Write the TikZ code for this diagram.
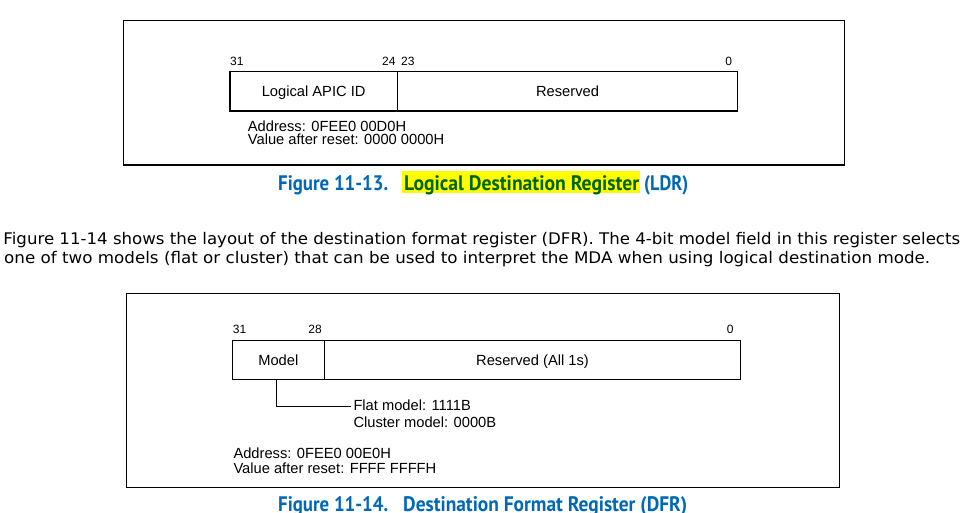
\documentclass[tikz,border=0pt]{standalone}
\usepackage{fontspec}
\usepackage{graphicx}
\setmainfont{Liberation Sans}
\newfontfamily\parafont{DejaVu Sans}
\newfontfamily\capfont{PT Sans}
\definecolor{capblue}{RGB}{0,104,181}
\definecolor{capgreen}{RGB}{0,100,0}
\definecolor{hlyellow}{RGB}{255,255,0}
\begin{document}
\begin{tikzpicture}[x=1pt,y=-1pt,
  frame/.style={draw, line width=1.2pt},
  field/.style={draw, line width=1.1pt, inner sep=0pt, text height=10.5pt, text depth=0pt,
    font=\fontsize{14.7}{14}\selectfont, anchor=center},
  bitnum/.style={inner sep=0pt, font=\fontsize{12}{12}\selectfont},
  info/.style={inner sep=0pt, anchor=base west, font=\fontsize{14.7}{14}\selectfont},
  para/.style={inner sep=0pt, anchor=base west, font=\parafont\fontsize{16}{18}\selectfont},
  captext/.style={inner sep=0pt, anchor=base west, font=\capfont\bfseries\fontsize{21}{24}\selectfont},
  conn/.style={line width=1pt}]
\useasboundingbox (0,0) rectangle (975,512);
\fill[white] (0,0) rectangle (975,512);
\clip (0,0) rectangle (975,512);

% ---------- Figure 11-13 ----------
\draw[frame] (123.5,20.7) rectangle (844.3,165);
\node[field, minimum width=167.3pt, minimum height=39.3pt] (apic) at (313.65,91.35) {Logical APIC ID};
\node[field, minimum width=340.4pt, minimum height=39.3pt] (resA) at (567.5,91.35) {Reserved};
\node[bitnum, anchor=base west] (b31a) at (230,65.7) {31};
\node[bitnum, anchor=base east] (b24) at (395.7,65.7) {24};
\node[bitnum, anchor=base west] (b23) at (401,65.7) {23};
\node[bitnum, anchor=base east] (b0a) at (732.3,65.7) {0};
\node[info] (addrA) at (247.7,131.7) {Address: 0FEE0 00D0H};
\node[info] (valA) at (247.7,144.8) {Value after reset: 0000 0000H};

\fill[hlyellow] (402,171) rectangle (640,193);
\node[captext, text=capblue] (c1a) at (278,190) {\resizebox{110pt}{\height}{Figure 11-13.}};
\node[captext, text=capgreen] (c1b) at (404,190) {\resizebox{235pt}{\height}{Logical Destination Register}};
\node[captext, text=capblue] (c1c) at (644,190) {\resizebox{44pt}{\height}{(LDR)}};

% ---------- Paragraph ----------
\node[para] (p1) at (3.3,244.5) {\resizebox{956.7pt}{\height}{Figure 11-14 shows the layout of the destination format register (DFR). The 4-bit model field in this register selects}};
\node[para] (p2) at (4,263.8) {\resizebox{926pt}{\height}{one of two models (flat or cluster) that can be used to interpret the MDA when using logical destination mode.}};

% ---------- Figure 11-14 ----------
\draw[frame] (126.5,293.3) rectangle (839.8,487.5);
\node[field, minimum width=92pt, minimum height=39pt] (model) at (278.3,359.8) {Model};
\node[field, minimum width=416.4pt, minimum height=39pt] (resB) at (532.5,359.8) {Reserved (All 1s)};
\node[bitnum, anchor=base west] (b31b) at (232.7,333.7) {31};
\node[bitnum, anchor=base east] (b28) at (322,333.7) {28};
\node[bitnum, anchor=base east] (b0b) at (733.7,333.5) {0};
\coordinate (flatend) at (350.7,406.7);
\draw[conn] ([xshift=-1.6pt]model.south) |- (flatend);
\node[info] (flat) at (353.3,410.3) {Flat model: 1111B};
\node[info] (cluster) at (353.3,427.3) {Cluster model: 0000B};
\node[info] (addrB) at (233.3,458) {Address: 0FEE0 00E0H};
\node[info] (valB) at (233.3,473.3) {Value after reset: FFFF FFFFH};

\node[captext, text=capblue] (c2a) at (278,511.5) {\resizebox{110pt}{\height}{Figure 11-14.}};
\node[captext, text=capblue] (c2b) at (403,511.5) {\resizebox{284pt}{\height}{Destination Format Register (DFR)}};
\end{tikzpicture}
\end{document}
